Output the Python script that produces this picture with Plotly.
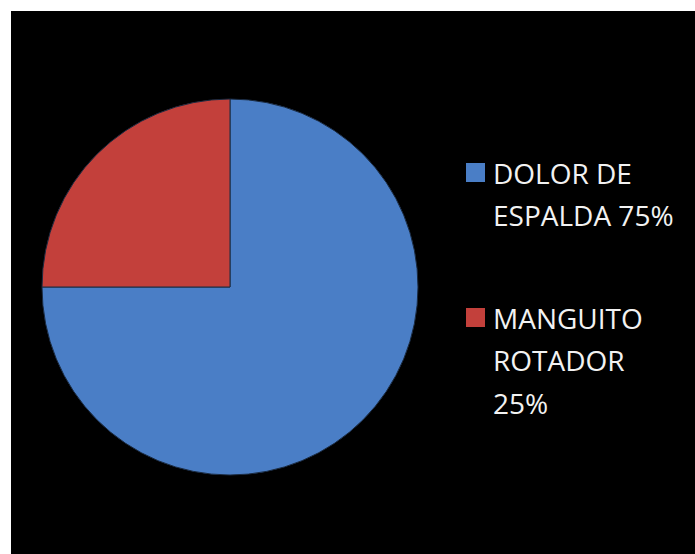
import plotly.graph_objects as go

labels = ["DOLOR DE ESPALDA 75%", "MANGUITO ROTADOR 25%"]
label_lines = [["DOLOR DE", "ESPALDA 75%"], ["MANGUITO", "ROTADOR", "25%"]]
values = [75, 25]
colors = ["#4a7ec6", "#c3403b"]

W, H = 695, 554

def px(x):
    return x / W

def py(y):
    return 1 - y / H

fig = go.Figure(go.Pie(
    labels=labels,
    values=values,
    sort=False,
    direction="clockwise",
    rotation=0,
    textinfo="none",
    hoverinfo="label+percent",
    showlegend=False,
    marker=dict(colors=colors, line=dict(color="#1a2a40", width=1)),
    domain=dict(x=[px(230 - 188), px(230 + 188)], y=[py(287 + 188), py(287 - 188)]),
))

shapes = [dict(type="rect", xref="paper", yref="paper", x0=px(11), x1=1.0, y0=0, y1=py(11),
               fillcolor="black", line=dict(width=0), layer="below")]
annotations = []
item_tops = [163, 308]   # cap-top of each legend item
line_gap = 42.5
for lines, color, top in zip(label_lines, colors, item_tops):
    shapes.append(dict(type="rect", xref="paper", yref="paper",
                       x0=px(466), x1=px(485), y0=py(top + 19), y1=py(top),
                       fillcolor=color, line=dict(width=0), layer="above"))
    for i, t in enumerate(lines):
        mid = top + 9.5 + i * line_gap
        annotations.append(dict(text=t, xref="paper", yref="paper", x=px(491), y=py(mid),
                                xanchor="left", yanchor="middle", showarrow=False,
                                font=dict(family="Open Sans, sans-serif", size=28, color="#f2f2f2")))

fig.update_layout(
    width=W, height=H,
    margin=dict(l=0, r=0, t=0, b=0),
    paper_bgcolor="white",
    shapes=shapes,
    annotations=annotations,
)

fig.write_html("out.html", config={"displayModeBar": False},
               post_script="document.body.style.margin='0';document.body.style.overflow='hidden';")
